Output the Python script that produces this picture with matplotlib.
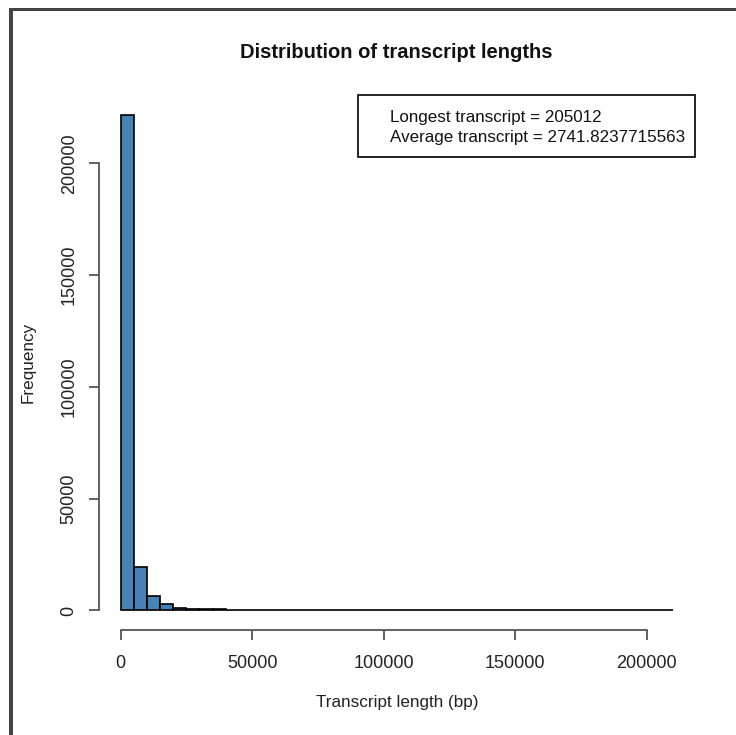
import matplotlib.pyplot as plt
from matplotlib.patches import Rectangle

plt.rcParams['font.family'] = ['Liberation Sans', 'DejaVu Sans']

# histogram counts, bins of 5000 bp from 0 to 210000
bin_width = 5000
counts = [221600, 19300, 6500, 2800, 1300, 650, 600, 550, 180, 140,
          110, 90, 70, 55, 45, 35, 28, 22, 18, 15,
          12, 10, 8, 7, 6, 5, 4, 3, 3, 2,
          2, 2, 1, 1, 1, 0, 1, 0, 0, 0,
          0, 1]
edges = [i * bin_width for i in range(len(counts) + 1)]
xticks = [0, 50000, 100000, 150000, 200000]
yticks = [0, 50000, 100000, 150000, 200000]
legend_lines = ["Longest transcript = 205012",
                "Average transcript = 2741.8237715563"]

W, H = 736, 735
fig = plt.figure(figsize=(W / 100, H / 100), dpi=100)

# plot region in pixels
left, right, top, bottom = 98.5, 695, 95.2, 630.3
ax = fig.add_axes([left / W, 1 - bottom / H, (right - left) / W, (bottom - top) / H])

ax.bar(edges[:-1], counts, width=bin_width, align='edge',
       color='#4682B4', edgecolor='black', linewidth=1.2)

xr = edges[-1] - edges[0]
ax.set_xlim(edges[0] - 0.04 * xr, edges[-1] + 0.04 * xr)
ymax = max(counts)
ax.set_ylim(-0.04 * ymax, ymax * 1.04)

for s in ['top', 'right']:
    ax.spines[s].set_visible(False)
ax.spines['bottom'].set_bounds(xticks[0], xticks[-1])
ax.spines['left'].set_bounds(yticks[0], yticks[-1])
for s in ['bottom', 'left']:
    ax.spines[s].set_color('#555555')
    ax.spines[s].set_linewidth(1.3)

ax.set_xticks(xticks)
ax.set_xticklabels([str(v) for v in xticks])
ax.set_yticks(yticks)
ax.set_yticklabels([str(v) for v in yticks], rotation=90, va='center')
ax.tick_params(axis='both', length=7.5, width=1.3, color='#555555',
               labelsize=13, labelcolor='#222222')
ax.tick_params(axis='x', pad=10.5)
ax.tick_params(axis='y', pad=7.5)

# legend box, topright
ax.add_patch(Rectangle((0.4346, 0.884), 0.5654, 0.116, transform=ax.transAxes,
                       fill=False, edgecolor='black', linewidth=1.2, clip_on=False))
ax.text(0.488, 0.959, legend_lines[0], transform=ax.transAxes, fontsize=12.25,
        va='center', ha='left', color='#111111')
ax.text(0.488, 0.921, legend_lines[1], transform=ax.transAxes, fontsize=12.25,
        va='center', ha='left', color='#111111')

fig.text((left + right) / 2 / W, 1 - 53 / H, "Distribution of transcript lengths",
         ha='center', va='center', fontsize=14.5, fontweight='bold', color='#111111')
fig.text((left + right) / 2 / W, 1 - 703 / H, "Transcript length (bp)",
         ha='center', va='center', fontsize=12.3, color='#222222')
fig.text(28 / W, 1 - 362 / H, "Frequency", rotation=90,
         ha='center', va='center', fontsize=12.3, color='#222222')

# dark frame on the left and top edges of the screenshot
fig.add_artist(Rectangle((9 / W, 0), 4 / W, 1 - 8 / H, transform=fig.transFigure,
                         color='#444444', lw=0))
fig.add_artist(Rectangle((9 / W, 1 - 11 / H), 1 - 9 / W, 3 / H, transform=fig.transFigure,
                         color='#444444', lw=0))

fig.savefig('out.png', dpi=100)
